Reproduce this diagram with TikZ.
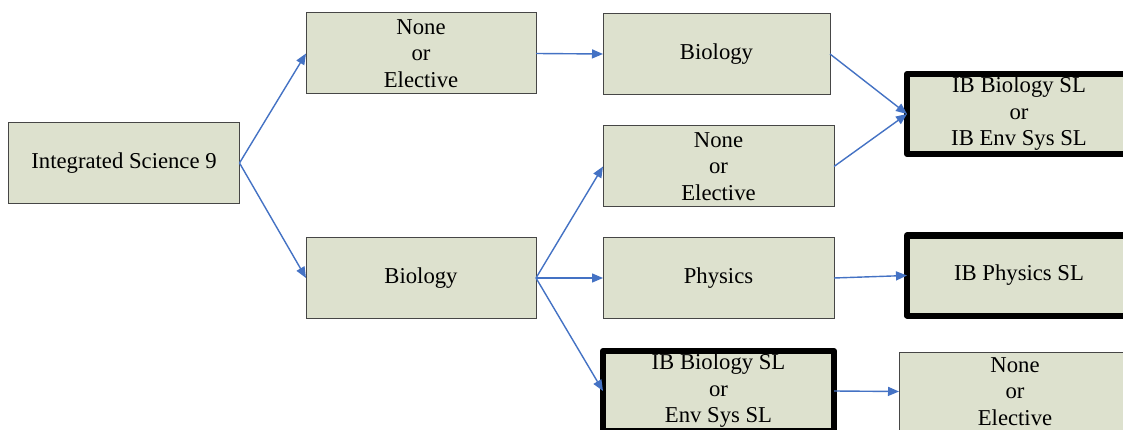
\documentclass[tikz,border=0pt]{standalone}
\usepackage{fontspec}
\setmainfont{Liberation Serif}
\newfontfamily\tnrfont{Liberation Serif}
\usetikzlibrary{arrows.meta}
\definecolor{boxfill}{RGB}{221,225,206}
\definecolor{boxline}{RGB}{70,70,70}
\definecolor{arrowblue}{RGB}{68,114,196}
\tikzset{
  course/.style={draw=boxline, line width=1pt, fill=boxfill, inner sep=0pt, outer sep=0pt,
    align=center, font=\tnrfont\fontsize{22.7}{26.5}\selectfont, text=black},
  ibcourse/.style={course, draw=black, line width=6pt, line join=round},
  flow/.style={draw=arrowblue, line width=1.4pt, -{Triangle[length=11pt,width=9pt]}}
}
\begin{document}
\begin{tikzpicture}[x=1pt,y=-1pt]
\useasboundingbox (0,0) rectangle (1123,430);
\clip (0,0) rectangle (1123,430);
\fill[white] (0,0) rectangle (1123,430);
\node[course, minimum width=231pt, minimum height=81pt] (is9) at (124,163) {Integrated Science 9};
\node[course, minimum width=230pt, minimum height=81pt] (n1) at (421,53.5) {None\\or\\Elective};
\node[course, minimum width=230pt, minimum height=81pt] (bio1) at (421,278) {Biology};
\node[course, minimum width=227pt, minimum height=81pt] (bio2) at (716.5,54) {Biology};
\node[course, minimum width=231pt, minimum height=81pt] (n2) at (718.5,166.5) {None\\or\\Elective};
\node[course, minimum width=231pt, minimum height=81pt] (phy) at (718.5,278) {Physics};
\node[ibcourse, minimum width=231pt, minimum height=80pt] (ibbe) at (718.5,391) {IB Biology SL\\or\\Env Sys SL};
\node[ibcourse, minimum width=224pt, minimum height=80pt] (ibb) at (1019,114) {IB Biology SL\\or\\IB Env Sys SL};
\node[ibcourse, minimum width=224pt, minimum height=80pt] (ibp) at (1019,275.5) {IB Physics SL};
\node[course, minimum width=232pt, minimum height=79pt] (n3) at (1015,391.5) {None\\or\\Elective};
\draw[flow] (is9.east) -- (n1.west);
\draw[flow] (is9.east) -- (bio1.west);
\draw[flow] (n1.east) -- (bio2.west);
\draw[flow] (bio2.east) -- (ibb.west);
\draw[flow] (n2.east) -- (ibb.west);
\draw[flow] (bio1.east) -- (n2.west);
\draw[flow] (bio1.east) -- (phy.west);
\draw[flow] (bio1.east) -- (ibbe.west);
\draw[flow] (phy.east) -- (ibp.west);
\draw[flow] (ibbe.east) -- (n3.west);
\end{tikzpicture}
\end{document}
